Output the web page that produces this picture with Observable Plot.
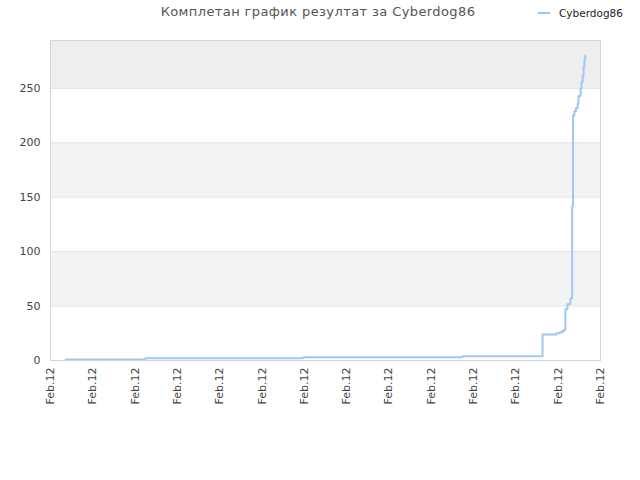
<!DOCTYPE html>
<html>
<head>
<meta charset="utf-8">
<script src="https://cdn.jsdelivr.net/npm/d3@7"></script>
<script src="https://cdn.jsdelivr.net/npm/@observablehq/plot@0.6"></script>
<style>
  body { margin: 0; background: #fff; font-family: "DejaVu Sans", sans-serif; }
  #wrap { position: relative; width: 640px; height: 480px; }
  #title { position: absolute; left: 0; width: 636px; top: 4px; text-align: center; font-size: 13px; color: #555; letter-spacing: 0.4px; }
  #legend { position: absolute; left: 538px; top: 7px; font-size: 10.5px; color: #222; display: flex; align-items: center; }
  #legend .sw { width: 12px; height: 2px; background: #9fc9f4; margin-right: 9px; }
</style>
</head>
<body>
<div id="wrap">
  <div id="chart"></div>
  <div id="title">Комплетан график резултат за Cyberdog86</div>
  <div id="legend"><span class="sw"></span><span>Cyberdog86</span></div>
</div>
<script>
// time in hours since start of the day (all on Feb.12)
const times  = [0.36, 2.245, 5.98, 9.74, 11.63, 11.88, 11.96, 12.04, 12.10, 12.14, 12.17, 12.22, 12.29, 12.33, 12.35, 12.38, 12.42, 12.46, 12.48, 12.53, 12.55, 12.58, 12.60, 12.62, 12.64];
const scores = [1,    2,     3,    4,    24,    24,    25,    26,    27,    28,    47,    52,    57,    142,   225,   229,   232,   236,   243,   250,   256,   262,   270,   276,   280];
const seriesName = "Cyberdog86";
const xTicks = [0,1,2,3,4,5,6,7,8,9,10,11,12,13];
const xTickLabel = "Feb.12";
const yTicks = [0, 50, 100, 150, 200, 250];
const yMax = 294;
const bandLows  = [50, 150, 250];
const bandHighs = [100, 200, 294];
const bandFills = ["#f3f3f3", "#f3f3f3", "#eeeeee"];

const data = times.map((t, i) => ({t, v: scores[i]}));
const bands = bandLows.map((lo, i) => ({lo, hi: bandHighs[i], fill: bandFills[i]}));

const chart = Plot.plot({
  width: 640,
  height: 480,
  marginLeft: 50,
  marginRight: 40,
  marginTop: 40,
  marginBottom: 120,
  style: {fontFamily: "DejaVu Sans, sans-serif", fontSize: "11px", color: "#444", background: "#fff"},
  x: {domain: [0, 13], ticks: xTicks, tickFormat: () => xTickLabel, tickRotate: -90, tickSize: 0, tickPadding: 7, label: null},
  y: {domain: [0, yMax], ticks: yTicks, tickSize: 0, tickPadding: 10, label: null},
  marks: [
    Plot.rectY(bands, {x1: 0, x2: 13, y1: "lo", y2: "hi", fill: "fill"}),
    Plot.ruleY(yTicks.filter(d => d > 0), {stroke: "#e2e2e2"}),
    Plot.line(data, {x: "t", y: "v", curve: "step-after", stroke: "#9fc9f4", strokeWidth: 2}),
    Plot.frame({stroke: "#d6d6d6"})
  ]
});
document.getElementById("chart").appendChild(chart);
</script>
</body>
</html>
